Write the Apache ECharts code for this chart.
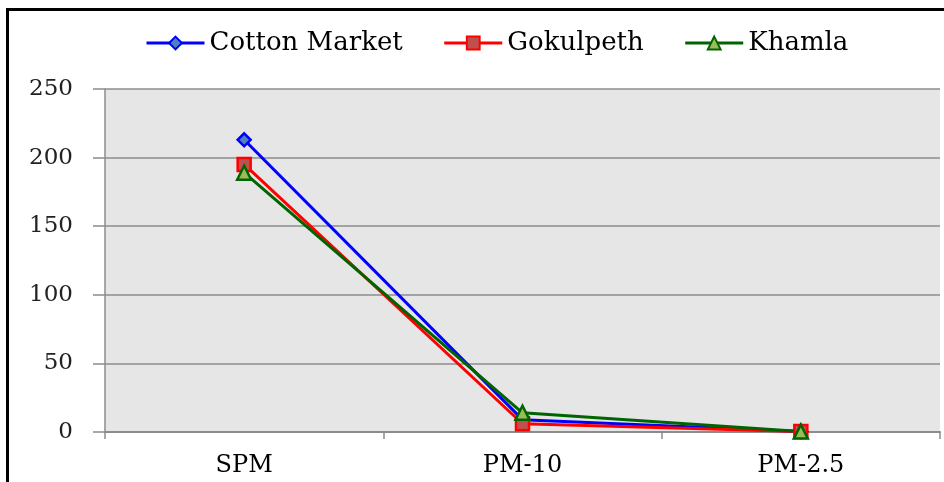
<!DOCTYPE html>
<html>
<head>
<meta charset="utf-8">
<script src="https://cdn.jsdelivr.net/npm/echarts@6/dist/echarts.min.js"></script>
<style>
html,body{margin:0;padding:0;background:#fff;}
#c{width:944px;height:482px;}
</style>
</head>
<body>
<div id="c"></div>
<script>
var categories = ["SPM", "PM-10", "PM-2.5"];
var cottonMarket = [213, 9, 0.3];
var gokulpeth = [195, 6, 0.3];
var khamla = [189, 14, 0.3];
var yTicks = [0, 50, 100, 150, 200, 250];

var chart = echarts.init(document.getElementById('c'), null, {renderer: 'canvas'});
var font = 'DejaVu Serif';
chart.setOption({
  animation: false,
  backgroundColor: '#ffffff',
  legend: {
    top: 25,
    left: 140,
    itemWidth: 58,
    itemHeight: 16,
    itemGap: 40,
    lineStyle: {width: 3},
    textStyle: {fontFamily: font, fontSize: 26, color: '#000'},
    data: ['Cotton Market', 'Gokulpeth', 'Khamla']
  },
  graphic: [
    {type: 'line', shape: {x1: 6, y1: 9.5, x2: 944, y2: 9.5}, style: {stroke: '#000', lineWidth: 3}, silent: true},
    {type: 'line', shape: {x1: 7.5, y1: 8, x2: 7.5, y2: 482}, style: {stroke: '#000', lineWidth: 3}, silent: true}
  ],
  grid: {left: 105, right: 4, top: 89, bottom: 50, show: true, backgroundColor: '#e6e6e6', borderWidth: 0},
  xAxis: {
    type: 'category',
    data: categories,
    boundaryGap: true,
    axisLine: {lineStyle: {color: '#8c8c8c', width: 2}},
    axisTick: {show: true, length: 7, lineStyle: {color: '#8c8c8c', width: 1.5}},
    axisLabel: {fontFamily: font, fontSize: 24, color: '#000', margin: 22}
  },
  yAxis: {
    type: 'value',
    min: yTicks[0],
    max: yTicks[yTicks.length - 1],
    interval: 50,
    axisLine: {show: true, lineStyle: {color: '#8c8c8c', width: 1.5}},
    axisTick: {show: true, length: 12, lineStyle: {color: '#8c8c8c', width: 1.5}},
    axisLabel: {fontFamily: font, fontSize: 23, color: '#222', margin: 32},
    splitLine: {lineStyle: {color: '#8c8c8c', width: 1.5}}
  },
  series: [
    {
      name: 'Cotton Market', type: 'line', data: cottonMarket,
      symbol: 'diamond', symbolSize: 13,
      lineStyle: {color: '#0000ff', width: 3},
      itemStyle: {color: '#4f81bd', borderColor: '#0000ff', borderWidth: 2.5}
    },
    {
      name: 'Gokulpeth', type: 'line', data: gokulpeth,
      symbol: 'rect', symbolSize: 13,
      lineStyle: {color: '#ff0000', width: 3},
      itemStyle: {color: '#c0504d', borderColor: '#ff0000', borderWidth: 2.5}
    },
    {
      name: 'Khamla', type: 'line', data: khamla,
      symbol: 'triangle', symbolSize: 14,
      lineStyle: {color: '#006400', width: 3},
      itemStyle: {color: '#9bbb59', borderColor: '#006400', borderWidth: 2.5}
    }
  ]
});
</script>
</body>
</html>
